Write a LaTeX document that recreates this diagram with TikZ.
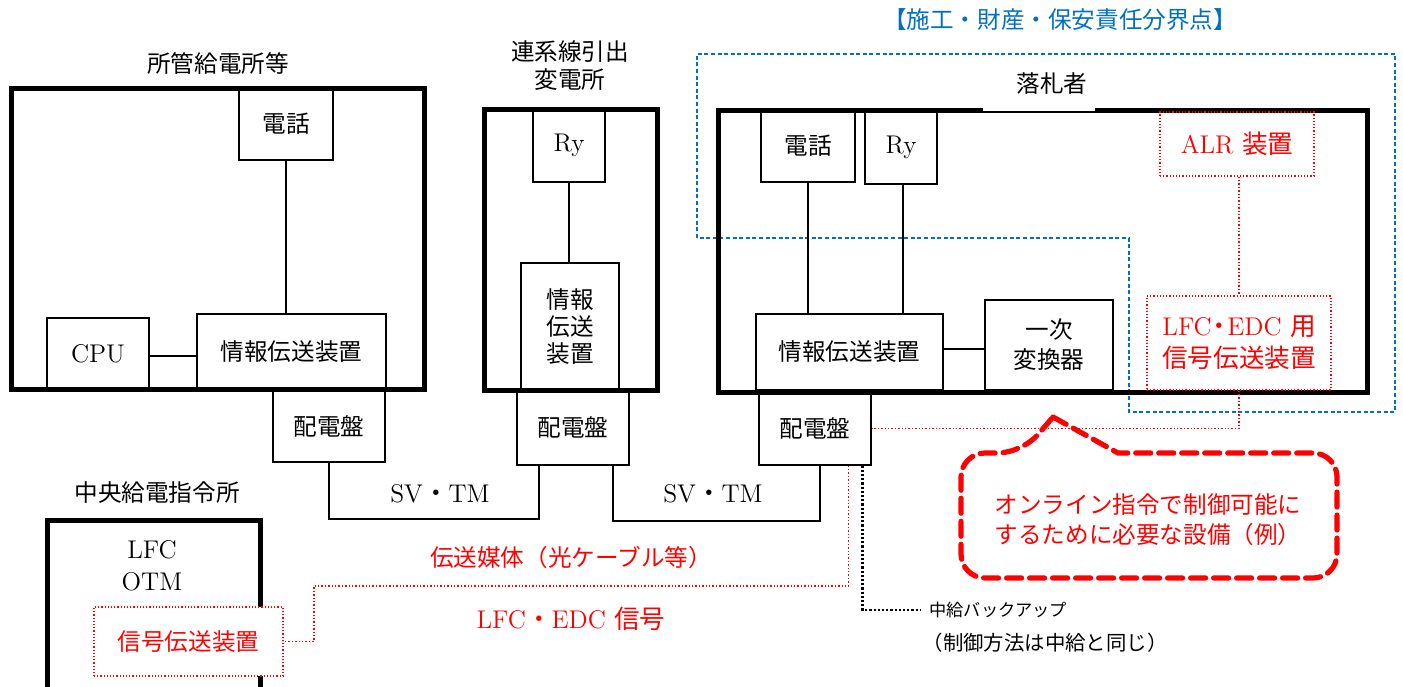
\documentclass[tikz,border=0pt]{standalone}
\usepackage{fontspec}
\newfontfamily\cjk{Noto Sans CJK JP}
\usetikzlibrary{calc}
\definecolor{myred}{HTML}{FF0000}
\definecolor{myblue}{HTML}{0070C0}
\tikzset{
  base/.style={inner sep=0pt, align=center, font=\fontsize{11.8}{15}\selectfont\cjk},
  lat/.style={inner sep=0pt, align=center, font=\fontsize{12.8}{15}\selectfont},
  bx/.style={draw, line width=0.65pt},
  cont/.style={draw, line width=2.5pt, inner sep=0pt},
  conn/.style={line width=1pt},
  rdot/.style={draw=myred, line width=0.7pt, densely dotted},
  rbox/.style={draw=myred, line width=0.6pt, densely dotted, text=myred},
  kdot/.style={line width=1.1pt, densely dotted},
  blued/.style={draw=myblue, line width=0.75pt, dash pattern=on 2pt off 1.3pt},
  callout/.style={draw=myred, line width=2.6pt, dash pattern=on 7.5pt off 4pt, line cap=round},
}
\begin{document}
\begin{tikzpicture}[x=0.5pt,y=-0.5pt]
\useasboundingbox (0,0) rectangle (1403,686);

% ---- blue boundary
\draw[blued] (697,238) -- (697,54) -- (1395,54) -- (1395,412) -- (1129,412) -- (1129,238) -- cycle;
\node[base, text=myblue] (bluelab) at (1060,20) {【施工・財産・保安責任分界点】};

% ---- containers
\node[cont, minimum width=206.5pt, minimum height=150.5pt] (A) at (217.5,238.5) {};
\node[cont, minimum width=86.5pt, minimum height=140.5pt] (B) at (570.5,249.5) {};
\node[cont, minimum width=324.5pt, minimum height=141pt] (C) at (1042.5,251) {};
\fill[white] (983,107.2) rectangle (1095,110.5);
\draw[line width=2.5pt] (47,688) -- (47,520) -- (260,520) -- (260,688);

% ---- labels
\node[base] (Alab) at (218,63) {所管給電所等};
\node[base] (Blab) at (570,66) {連系線引出\\[-1pt]変電所};
\node[base] (Clab) at (1052,84) {落札者};
\node[base] (Dlab) at (157,493) {中央給電指令所};

% ---- box A
\node[base, bx, minimum width=47pt, minimum height=36pt] (Atel) at (286,124) {電話};
\node[base, bx, minimum width=94.5pt, minimum height=37.5pt] (Ainfo) at (291.5,351.5) {情報伝送装置};
\node[lat, bx, minimum width=51pt, minimum height=35.5pt] (cpu) at (98,353.5) {CPU};
\node[base, bx, minimum width=56pt, minimum height=36pt] (pA) at (329,426) {配電盤};
\draw[conn] (Atel.south) -- (Atel.south |- Ainfo.north);
\draw[conn] (cpu.east |- 0,356) -- (Ainfo.west |- 0,356);

% ---- box B
\node[lat, bx, minimum width=36pt, minimum height=36.5pt] (Bry) at (569,145.5) {Ry};
\node[base, bx, minimum width=49pt, minimum height=63.5pt] (Binfo) at (570,326.5) {情報\\[-1.3pt]伝送\\[-1.3pt]装置};
\node[base, bx, minimum width=56pt, minimum height=37.5pt] (pB) at (573,427.5) {配電盤};
\draw[line width=0.8pt] (Bry.south) -- (Bry.south |- Binfo.north);

% ---- box C
\node[base, bx, minimum width=47pt, minimum height=36pt] (Ctel) at (808,146) {電話};
\node[lat, bx, minimum width=36pt, minimum height=37pt] (Cry) at (901,147) {Ry};
\node[base, bx, minimum width=93.5pt, minimum height=38pt] (Cinfo) at (849.5,352) {情報伝送装置};
\node[base, bx, minimum width=64pt, minimum height=45pt] (conv) at (1049,345) {一次\\[0pt]変換器};
\node[base, bx, minimum width=56pt, minimum height=36.5pt] (pC) at (815,428.5) {配電盤};
\node[lat, rbox, minimum width=77pt, minimum height=32pt] (alr) at (1237,144) {ALR {\cjk 装置}};
\node[lat, rbox, minimum width=92pt, minimum height=47pt] (lfc) at (1239,343) {LFC\kern-2.5pt{\cjk ・}\kern-2.5pt EDC {\cjk 用}\\[1pt]{\cjk 信号伝送装置}};
\draw[conn] (Ctel.south) -- (Ctel.south |- Cinfo.north);
\draw[line width=1.2pt] ([xshift=1pt]Cry.south) -- ([xshift=1pt]Cry.south |- Cinfo.north);
\draw[conn] (Cinfo.east |- 0,349) -- (conv.west |- 0,349);
\draw[rdot] (alr.south -| lfc.north) -- (lfc.north);
\draw[rdot] (lfc.south) |- (pC.east);

% ---- box D
\node[lat] (lfcotm) at (152,566) {LFC\\[1pt]OTM};
\node[base, rbox, fill=white, minimum width=94.5pt, minimum height=34.5pt] (sig) at (188.5,641.5) {信号伝送装置};

% ---- SV/TM links
\coordinate (svA) at (0,519);
\coordinate (svB) at (0,521);
\coordinate (b0) at ($(pB.south west)!0.2!(pB.south east)$);
\coordinate (b1) at ($(pB.south west)!0.853!(pB.south east)$);
\coordinate (c1) at ($(pC.south west)!0.54!(pC.south east)$);
\draw[conn] (pA.south) -- (pA.south |- svA) -| (b0);
\draw[conn] (b1) -- (b1 |- svB) -| (c1);
\node[lat] (sv1) at (440,494) {SV{\cjk ・}TM};
\node[lat] (sv2) at (713,494) {SV{\cjk ・}TM};

% ---- red transmission path
\coordinate (rA) at (314,586);
\coordinate (c2) at ($(pC.south west)!0.795!(pC.south east)$);
\draw[rdot] (c2) |- (rA) |- (sig.east);
\node[base, text=myred] (media) at (571,558) {伝送媒体（光ケーブル等）};
\node[lat, text=myred] (sigtxt) at (571,619) {LFC{\cjk ・}EDC {\cjk 信号}};

% ---- backup
\node[base, anchor=west, font=\fontsize{8.6}{12}\selectfont\cjk] (bk) at (929,610) {中給バックアップ};
\coordinate (bkend) at (920,610);
\coordinate (c3) at ($(pC.south west)!0.92!(pC.south east)$);
\draw[kdot] (c3) |- (bkend);
\node[base, font=\fontsize{10.2}{12}\selectfont\cjk] (bk2) at (1045,643) {（制御方法は中給と同じ）};

% ---- callout
\draw[callout] (1053,417) -- (1118,453) [rounded corners=12pt] -- (1337,453) -- (1337,578) -- (961,578) -- (961,453) -- (1022,453) [sharp corners] -- cycle;
\node[base, text=myred] (note) at (1148,520) {オンライン指令で制御可能に\\[0pt]するために必要な設備（例）};
\end{tikzpicture}
\end{document}
